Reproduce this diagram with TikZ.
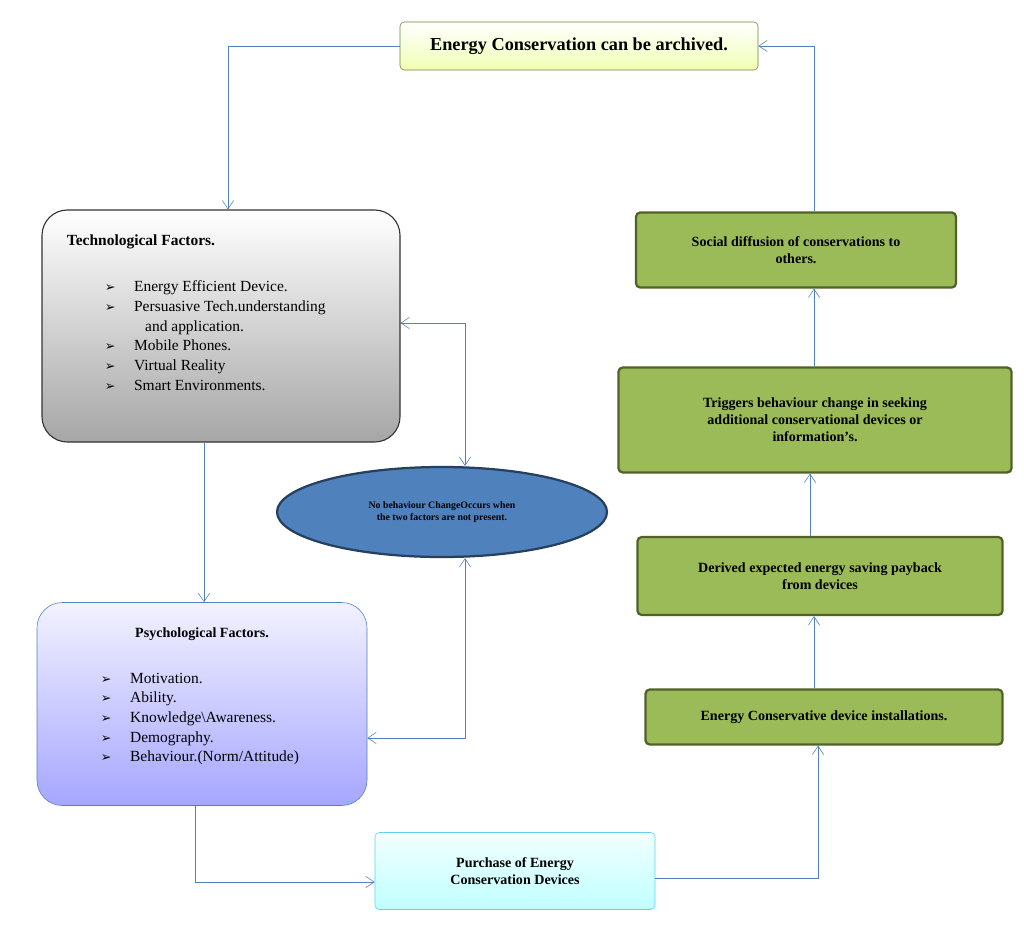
\documentclass[tikz,border=0pt]{standalone}
\usepackage{fontspec}
\setmainfont{Liberation Serif}
\newfontfamily\dv{DejaVu Sans}
\usetikzlibrary{shapes.geometric,arrows.meta}
\definecolor{arr}{RGB}{79,129,189}
\definecolor{grn}{RGB}{155,187,89}
\definecolor{grnd}{RGB}{79,98,40}
\newcommand{\itm}{{\dv\small ➢}\hspace{1.2em}}
\tikzset{
  link/.style={draw=arr, -{Straight Barb[length=6pt,width=8pt]}},
  both/.style={draw=arr, {Straight Barb[length=6pt,width=8pt]}-{Straight Barb[length=6pt,width=8pt]}},
  greenbox/.style={draw=grnd, line width=1.6pt, fill=grn, rounded corners=3pt, font=\bfseries, align=center},
}
\begin{document}
\begin{tikzpicture}[x=0.025cm, y=-0.025cm, font=\fontsize{11}{14}\selectfont]
  \useasboundingbox (0,0) rectangle (1024,929);

  % top
  \node[draw=grn!70!black, top color=white, bottom color=green!20!yellow!30, rounded corners=3pt,
        minimum width=358*0.025cm, minimum height=48*0.025cm, font=\fontsize{13}{15}\selectfont\bfseries]
        (goal) at (579,46) {Energy Conservation can be archived.};

  % left side
  \node[draw=black!80, thick, top color=white, bottom color=gray!70, rounded corners=18pt,
        minimum width=358*0.025cm, minimum height=232*0.025cm] (tech) at (221,326) {};
  \node[anchor=north west, font=\bfseries\fontsize{11}{14}\selectfont] at (62,230) {Technological Factors.};
  \node[anchor=north west, align=left] at (100,276) {\itm Energy Efficient Device.\\
    \itm Persuasive Tech.understanding\\ \hspace{2.6em}and application.\\
    \itm Mobile Phones.\\ \itm Virtual Reality\\ \itm Smart Environments.};

  \node[draw=arr, top color=blue!5, bottom color=blue!35, rounded corners=18pt,
        minimum width=330*0.025cm, minimum height=203*0.025cm] (psych) at (202,704) {};
  \node[font=\bfseries] at (202,634) {Psychological Factors.};
  \node[anchor=north west, align=left] at (96,668) {\itm Motivation.\\ \itm Ability.\\
    \itm Knowledge\textbackslash Awareness.\\ \itm Demography.\\ \itm Behaviour.(Norm/Attitude)};

  \node[draw=arr!50!black, line width=1.6pt, fill=arr, ellipse, minimum width=330*0.025cm,
        minimum height=90*0.025cm, align=center, font=\bfseries\fontsize{7}{9}\selectfont]
        (none) at (442,512) {No behaviour ChangeOccurs when\\the two factors are not present.};

  \node[draw=cyan!60, top color=cyan!5, bottom color=cyan!25, rounded corners=3pt,
        minimum width=280*0.025cm, minimum height=77*0.025cm, align=center, font=\bfseries]
        (buy) at (515,871) {Purchase of Energy\\Conservation Devices};

  % right side
  \node[greenbox, minimum width=357*0.025cm, minimum height=55*0.025cm] (inst) at (824,717)
        {Energy Conservative device installations.};
  \node[greenbox, minimum width=365*0.025cm, minimum height=78*0.025cm] (pay) at (820,576)
        {Derived expected energy saving payback\\from devices};
  \node[greenbox, minimum width=393*0.025cm, minimum height=105*0.025cm] (trig) at (815,420)
        {Triggers behaviour change in seeking\\additional conservational devices or\\information's.};
  \node[greenbox, minimum width=320*0.025cm, minimum height=75*0.025cm] (soc) at (796,250)
        {Social diffusion of conservations to\\others.};

  % connectors
  \draw[link] (goal.west) -| (tech.north -| 228,0);
  \draw[link] (tech.south -| 204,0) -- (psych.north -| 204,0);
  \draw[both] (tech.east |- 0,323) -| (none.north -| 465,0);
  \draw[both] (psych.east |- 0,738) -| (none.south -| 465,0);
  \draw[link] (psych.south -| 195,0) |- (buy.west |- 0,882);
  \draw[link] (buy.east |- 0,878) -| (inst.south -| 818,0);
  \draw[link] (inst.north -| 814,0) -- (pay.south -| 814,0);
  \draw[link] (pay.north -| 810,0) -- (trig.south -| 810,0);
  \draw[link] (trig.north -| 814,0) -- (soc.south -| 814,0);
  \draw[link] (soc.north -| 814,0) |- (goal.east);
\end{tikzpicture}
\end{document}
